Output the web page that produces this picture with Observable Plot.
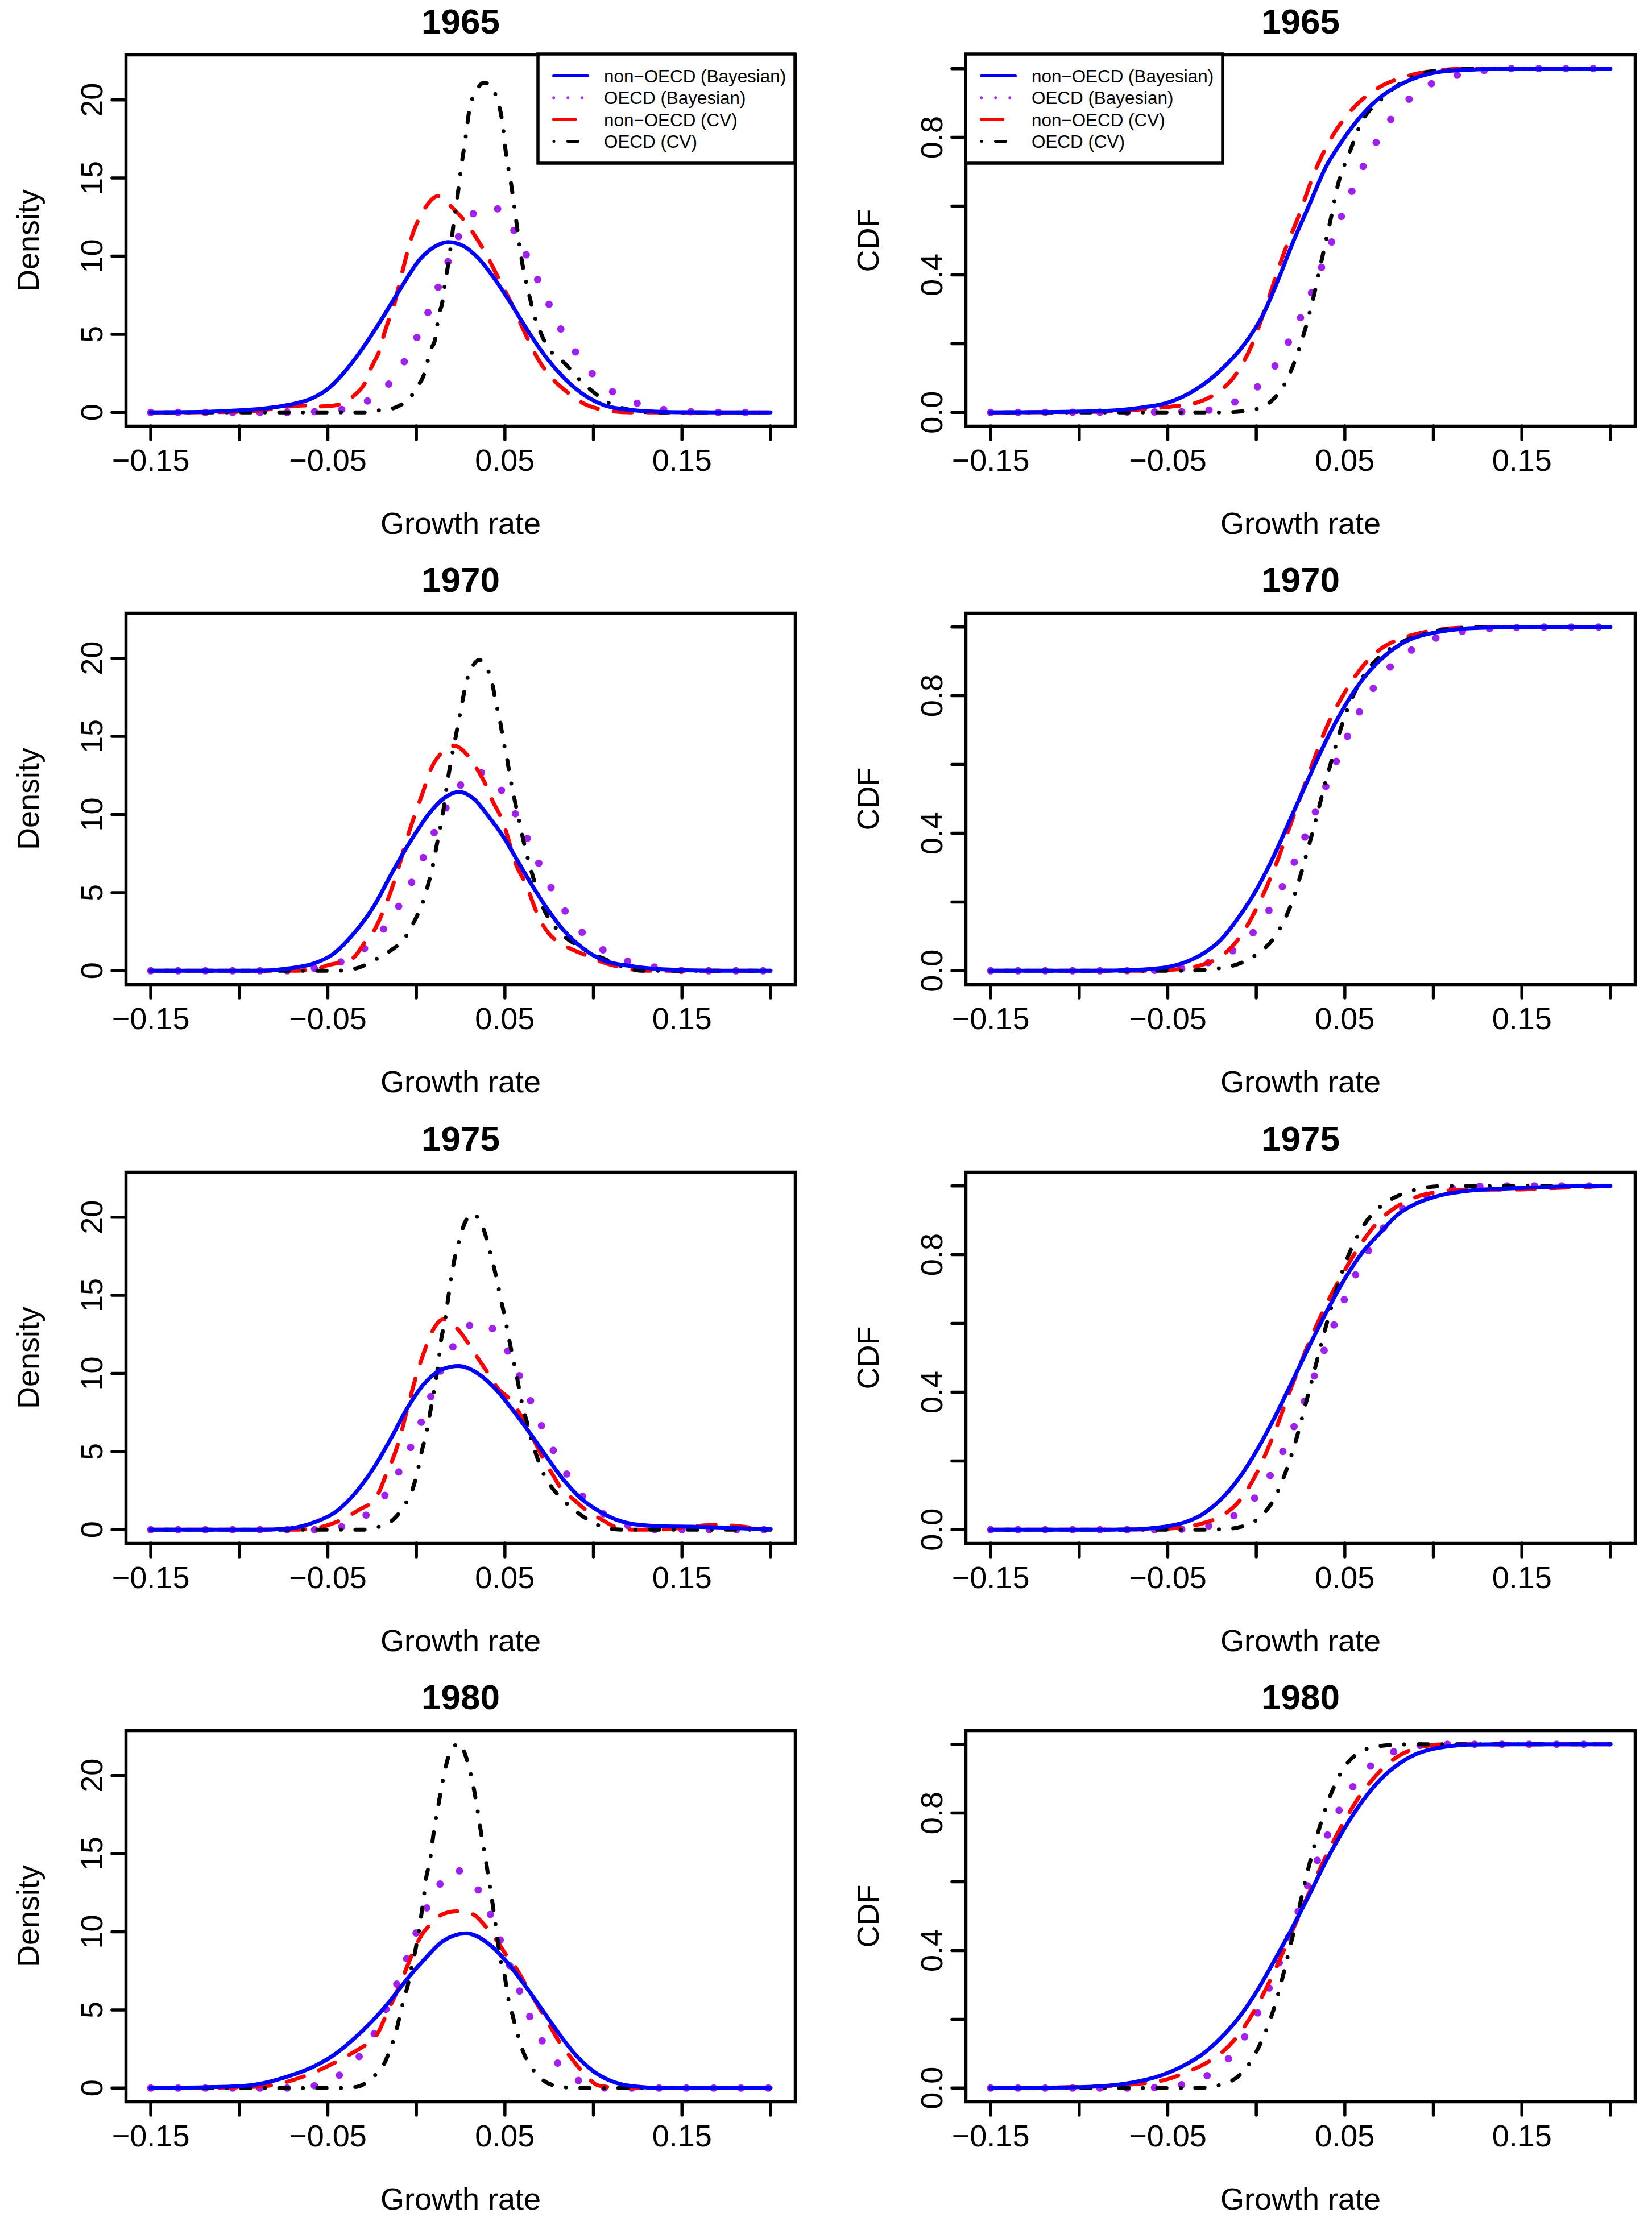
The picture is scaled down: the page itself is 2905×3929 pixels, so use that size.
<!DOCTYPE html>
<html>
<head>
<meta charset="utf-8">
<script src="https://cdn.jsdelivr.net/npm/d3@7"></script>
<script src="https://cdn.jsdelivr.net/npm/@observablehq/plot@0.6"></script>
<style>
  html, body { margin: 0; padding: 0; background: #ffffff; }
  #root { position: relative; width: 2905px; height: 3929px; overflow: hidden; background: #ffffff;
          font-family: "Liberation Sans", Arial, Helvetica, sans-serif; }
  .panel { position: absolute; }
</style>
</head>
<body>
<div id="root"></div>
<script>
// ---------------- categories / labels ----------------
const years = ["1965", "1970", "1975", "1980"];
const seriesLabels = ["non−OECD (Bayesian)", "OECD (Bayesian)", "non−OECD (CV)", "OECD (CV)"];
const xTicks = [-0.15, -0.10, -0.05, 0, 0.05, 0.10, 0.15, 0.20];
const xTickLabels = [-0.15, -0.05, 0.05, 0.15];
const densityTicks = [0, 5, 10, 15, 20];
const densityTickLabels = [0, 5, 10, 15, 20];
const cdfTicks = [0, 0.2, 0.4, 0.6, 0.8, 1.0];
const cdfTickLabels = [0, 0.4, 0.8];

// ---------------- density curves: [growth rate, density] ----------------
const dens1965_nonOECD_Bayes = [[-0.15,0],[-0.13,0.02],[-0.116,0.05],[-0.0975,0.15],[-0.0867,0.24],[-0.076,0.4],[-0.068,0.58],[-0.06,0.85],[-0.05,1.5],[-0.042,2.4],[-0.0313,3.95],[-0.0205,5.8],[-0.0099,7.75],[0.0025,9.86],[0.0114,10.67],[0.0179,10.9],[0.0262,10.67],[0.0351,9.86],[0.044,8.58],[0.0528,7.08],[0.0617,5.45],[0.0706,3.94],[0.0795,2.67],[0.0884,1.67],[0.0973,0.93],[0.1061,0.46],[0.121,0.16],[0.1358,0.05],[0.15,0.01],[0.2,0]];
const dens1965_OECD_Bayes = [[-0.15,0],[-0.0727,0],[-0.0572,0.05],[-0.0419,0.19],[-0.0273,0.75],[-0.0154,1.84],[-0.0067,3.27],[0.0005,4.84],[0.0067,6.43],[0.0124,8.03],[0.018,9.67],[0.0238,11.25],[0.032,12.7],[0.039,13.2],[0.0457,13.04],[0.055,11.67],[0.062,10.1],[0.0685,8.5],[0.075,6.9],[0.0816,5.34],[0.0899,3.87],[0.0993,2.48],[0.1109,1.32],[0.1248,0.58],[0.1396,0.19],[0.155,0.05],[0.17,0],[0.2,0]];
const dens1965_nonOECD_CV = [[-0.15,0],[-0.11,0.02],[-0.092,0.08],[-0.08,0.25],[-0.0698,0.4],[-0.0607,0.45],[-0.0542,0.38],[-0.048,0.42],[-0.042,0.57],[-0.0361,0.99],[-0.0282,2.08],[-0.0257,2.81],[-0.0205,4.08],[-0.0186,4.87],[-0.0147,6.2],[-0.0125,6.9],[-0.0099,8.1],[-0.0005,11.9],[0.0025,12.6],[0.0125,13.85],[0.0203,13.1],[0.0262,12.4],[0.032,11.5],[0.0395,10.1],[0.0469,8.47],[0.0543,6.84],[0.0617,4.99],[0.069,3.36],[0.0765,2.2],[0.0854,1.28],[0.0943,0.58],[0.1061,0.16],[0.121,0],[0.2,0]];
const dens1965_OECD_CV = [[-0.15,0],[-0.03,0],[-0.0224,0.12],[-0.0154,0.2],[-0.0093,0.45],[-0.0034,0.96],[0.0006,1.67],[0.004,2.33],[0.006,3.1],[0.0076,3.9],[0.0105,4.63],[0.0116,5.45],[0.0126,6.2],[0.0146,7.0],[0.0156,7.8],[0.0188,10.1],[0.0209,11.95],[0.0232,13.8],[0.0256,15.9],[0.0277,17.5],[0.03,19.4],[0.0336,20.5],[0.038,21.1],[0.041,21.0],[0.0454,20.1],[0.0484,18.7],[0.0508,16.4],[0.0534,14.7],[0.0552,13.3],[0.0573,11.5],[0.0597,9.63],[0.0632,7.77],[0.0662,6.38],[0.0706,4.99],[0.0765,3.83],[0.0839,3.13],[0.0913,2.2],[0.1002,1.28],[0.1091,0.58],[0.121,0.16],[0.1328,0],[0.2,0]];

const dens1970_nonOECD_Bayes = [[-0.15,0],[-0.0899,0],[-0.0735,0.13],[-0.0572,0.49],[-0.0474,1.04],[-0.036,2.3],[-0.0245,4.04],[-0.0131,6.4],[-0.0016,8.6],[0.0082,10.2],[0.0163,11.1],[0.024,11.45],[0.0327,10.98],[0.0408,9.87],[0.049,8.6],[0.0572,7.03],[0.0654,5.46],[0.0735,4.04],[0.0817,2.78],[0.0899,1.83],[0.098,1.12],[0.1062,0.65],[0.1225,0.28],[0.139,0.09],[0.166,0],[0.2,0]];
const dens1970_OECD_Bayes = [[-0.15,0],[-0.0722,0],[-0.0572,0.16],[-0.0425,0.57],[-0.0291,1.44],[-0.0183,2.7],[-0.0098,4.16],[-0.0025,5.69],[0.0041,7.29],[0.0103,8.9],[0.0168,10.43],[0.0252,11.92],[0.032,12.75],[0.0381,12.63],[0.0487,11.45],[0.0565,9.92],[0.0632,8.34],[0.0696,6.77],[0.0766,5.21],[0.0846,3.72],[0.0944,2.37],[0.1062,1.28],[0.1204,0.57],[0.1353,0.22],[0.1503,0.02],[0.166,0],[0.2,0]];
const dens1970_nonOECD_CV = [[-0.15,0],[-0.07,0],[-0.0572,0.1],[-0.0507,0.33],[-0.036,0.8],[-0.0286,1.9],[-0.0237,2.6],[-0.0188,3.8],[-0.0163,4.5],[-0.0098,6.7],[-0.0049,8.6],[-0.0008,10.0],[0.0033,11.3],[0.0082,12.9],[0.0147,14.0],[0.0212,14.4],[0.0302,13.6],[0.0343,12.9],[0.04,11.7],[0.0425,11.0],[0.0482,9.7],[0.0507,8.9],[0.0556,7.0],[0.062,5.5],[0.0686,3.56],[0.0719,2.85],[0.08,1.83],[0.0866,1.44],[0.0964,0.96],[0.1046,0.57],[0.1144,0.25],[0.1307,0],[0.2,0]];
const dens1970_OECD_CV = [[-0.15,0],[-0.045,0],[-0.0335,0.17],[-0.0237,0.69],[-0.0147,1.28],[-0.0065,2.1],[-0.0008,3.25],[0.0033,4.27],[0.0065,5.46],[0.009,6.56],[0.0114,7.98],[0.0147,9.87],[0.018,12.4],[0.0199,13.66],[0.0221,14.9],[0.024,16.06],[0.0261,17.3],[0.0281,18.4],[0.0319,19.5],[0.0355,19.9],[0.0392,19.5],[0.0428,18.4],[0.0449,17.2],[0.0474,15.9],[0.049,14.8],[0.0511,13.66],[0.0529,12.4],[0.0552,11.1],[0.0588,9.2],[0.0618,7.7],[0.0645,6.56],[0.0673,5.46],[0.0719,3.96],[0.0757,3.2],[0.0825,2.3],[0.0915,1.59],[0.1005,1.04],[0.1095,0.6],[0.119,0.17],[0.128,0],[0.2,0]];

const dens1975_nonOECD_Bayes = [[-0.15,0],[-0.0899,0],[-0.0735,0.06],[-0.0572,0.49],[-0.0458,1.12],[-0.036,2.15],[-0.0245,3.88],[-0.0147,5.77],[-0.0049,7.82],[0.0049,9.4],[0.0147,10.27],[0.024,10.47],[0.0343,10.03],[0.0441,9.08],[0.0539,7.74],[0.0637,6.25],[0.0735,4.67],[0.0833,3.17],[0.0931,1.99],[0.1029,1.2],[0.1127,0.65],[0.1225,0.36],[0.1389,0.22],[0.1552,0.19],[0.17,0.15],[0.19,0.06],[0.2,0.03]];
const dens1975_OECD_Bayes = [[-0.15,0],[-0.0572,0],[-0.042,0.2],[-0.0281,0.96],[-0.0176,2.22],[-0.0098,3.72],[-0.0031,5.3],[0.0028,6.9],[0.0083,8.56],[0.0137,10.19],[0.0209,11.75],[0.0304,13.1],[0.037,13.4],[0.0438,12.76],[0.0523,11.29],[0.0588,9.72],[0.065,8.12],[0.0712,6.53],[0.0779,4.95],[0.0856,3.44],[0.0948,2.02],[0.107,0.91],[0.1209,0.22],[0.1359,0],[0.2,0]];
const dens1975_nonOECD_CV = [[-0.15,0],[-0.07,0],[-0.0572,0.1],[-0.0425,0.62],[-0.031,1.36],[-0.0261,1.67],[-0.0212,2.38],[-0.0172,3.49],[-0.0139,4.35],[-0.0098,5.69],[-0.0049,7.82],[0,9.87],[0.0041,11.29],[0.009,12.7],[0.0155,13.47],[0.0229,12.9],[0.0302,11.77],[0.0343,11.06],[0.0408,9.95],[0.0458,9.08],[0.0531,8.3],[0.058,7.5],[0.0621,6.7],[0.067,5.6],[0.0719,4.5],[0.0768,3.56],[0.0809,2.78],[0.0899,1.83],[0.0964,1.2],[0.1046,0.65],[0.1127,0.17],[0.1225,0],[0.139,0.02],[0.1503,0.13],[0.16,0.25],[0.17,0.3],[0.18,0.25],[0.19,0.12],[0.2,0.04]];
const dens1975_OECD_CV = [[-0.15,0],[-0.031,0],[-0.0229,0.13],[-0.0131,0.65],[-0.0065,1.59],[-0.0025,2.46],[0.0008,3.8],[0.0033,5.14],[0.0057,6.17],[0.0074,7.27],[0.0098,8.77],[0.0127,10.9],[0.0139,12.08],[0.016,13.27],[0.0175,14.45],[0.0191,15.71],[0.0212,17.13],[0.0232,18.08],[0.0261,19.26],[0.0315,20.2],[0.0376,19.34],[0.0408,18.15],[0.0433,17.05],[0.0458,15.8],[0.0477,14.76],[0.0502,13.47],[0.052,12.4],[0.0544,11.06],[0.0569,9.72],[0.0585,8.74],[0.0605,7.67],[0.0621,7.03],[0.065,5.77],[0.0686,4.5],[0.0719,3.56],[0.076,2.78],[0.0814,2.07],[0.0882,1.36],[0.098,0.57],[0.1078,0.09],[0.1176,0],[0.2,0]];

const dens1980_nonOECD_Bayes = [[-0.15,0],[-0.12,0.05],[-0.1,0.12],[-0.0899,0.24],[-0.0735,0.71],[-0.0572,1.42],[-0.0474,2.05],[-0.036,3.08],[-0.0245,4.34],[-0.0147,5.6],[-0.0049,7.02],[0.0049,8.28],[0.0147,9.38],[0.0281,9.9],[0.0408,9.23],[0.0507,8.12],[0.0605,6.7],[0.0703,5.13],[0.0801,3.55],[0.0899,2.13],[0.0997,1.1],[0.1095,0.47],[0.1225,0.11],[0.139,0],[0.2,0]];
const dens1980_OECD_Bayes = [[-0.15,0],[-0.0727,0],[-0.0572,0.16],[-0.0433,0.84],[-0.0322,2.03],[-0.0237,3.5],[-0.017,5.08],[-0.0109,6.7],[-0.0054,8.3],[0,9.97],[0.006,11.56],[0.0136,13.09],[0.02,14.0],[0.0263,13.79],[0.0361,12.45],[0.0428,10.85],[0.0482,9.23],[0.0536,7.57],[0.0592,5.96],[0.065,4.34],[0.0722,2.8],[0.0814,1.39],[0.0938,0.36],[0.1087,0],[0.2,0]];
const dens1980_nonOECD_CV = [[-0.15,0],[-0.12,0.02],[-0.0899,0.08],[-0.0735,0.39],[-0.0572,1.03],[-0.0441,1.74],[-0.0343,2.37],[-0.0278,2.84],[-0.0212,3.63],[-0.0172,4.65],[-0.0114,6.07],[-0.0065,7.41],[-0.0016,8.75],[0.0033,9.86],[0.0082,10.49],[0.0147,11.12],[0.0229,11.31],[0.0319,11.12],[0.0392,10.33],[0.0458,9.38],[0.0507,8.52],[0.0565,7.65],[0.0613,6.7],[0.0654,5.91],[0.0711,4.81],[0.076,3.86],[0.0809,2.92],[0.0866,2.05],[0.0915,1.34],[0.0964,0.71],[0.1029,0.16],[0.116,0],[0.2,0]];
const dens1980_OECD_CV = [[-0.15,0],[-0.0425,0],[-0.0335,0.08],[-0.0245,0.71],[-0.0188,1.42],[-0.0139,2.76],[-0.0114,3.63],[-0.009,4.8],[-0.0065,5.9],[-0.0049,6.55],[-0.0033,7.41],[-0.0008,8.68],[0.0016,10.17],[0.0041,12.15],[0.0057,13.56],[0.0077,14.54],[0.009,15.69],[0.0106,16.96],[0.0126,18.22],[0.0142,19.24],[0.0163,20.43],[0.0196,21.61],[0.0245,22.05],[0.0275,21.37],[0.0297,20.54],[0.0319,19.48],[0.034,18.17],[0.0359,16.8],[0.0373,15.8],[0.0392,14.59],[0.0408,13.41],[0.0425,12.22],[0.0441,10.96],[0.0482,7.82],[0.05,7.1],[0.051,6.34],[0.0523,5.52],[0.0542,4.73],[0.0559,3.94],[0.058,3.15],[0.0601,2.4],[0.0629,1.69],[0.067,1.02],[0.0719,0.47],[0.0781,0.16],[0.09,0],[0.2,0]];

// ---------------- CDF curves ----------------
// 1965: [growth rate, CDF]
const cdf1965_nonOECD_Bayes = [[-0.15,0],[-0.0949,0.003],[-0.0651,0.014],[-0.0502,0.028],[-0.0353,0.063],[-0.0205,0.121],[-0.0056,0.206],[0.0034,0.28],[0.0123,0.385],[0.0212,0.501],[0.0302,0.607],[0.0391,0.712],[0.048,0.786],[0.057,0.849],[0.0689,0.912],[0.0838,0.96],[0.0987,0.986],[0.1135,0.995],[0.1433,1],[0.2,1]];
const cdf1965_OECD_Bayes = [[-0.15,0],[-0.0419,0.002],[-0.0264,0.007],[-0.0115,0.032],[0.001,0.076],[0.0108,0.137],[0.0183,0.206],[0.0251,0.277],[0.0314,0.351],[0.037,0.424],[0.0427,0.498],[0.0483,0.573],[0.0543,0.647],[0.0605,0.717],[0.068,0.788],[0.0763,0.855],[0.0867,0.913],[0.0996,0.958],[0.1144,0.982],[0.1296,0.995],[0.1448,1],[0.2,1]];
const cdf1965_nonOECD_CV = [[-0.15,0],[-0.09,0.002],[-0.0502,0.016],[-0.0353,0.026],[-0.0234,0.053],[-0.0115,0.111],[-0.0026,0.195],[0.0063,0.322],[0.0153,0.459],[0.0242,0.575],[0.0331,0.701],[0.0421,0.796],[0.054,0.881],[0.0689,0.944],[0.0838,0.976],[0.1076,0.997],[0.1225,1],[0.2,1]];
const cdf1965_OECD_CV = [[-0.15,0],[-0.02,0],[-0.0026,0.007],[0.0093,0.037],[0.0168,0.09],[0.0242,0.185],[0.0317,0.322],[0.0376,0.459],[0.0421,0.564],[0.0465,0.67],[0.0525,0.754],[0.0599,0.849],[0.0689,0.902],[0.0838,0.965],[0.0987,0.992],[0.1225,1],[0.2,1]];

// 1970-1980: CDF at these growth rates
const cdfGrid = [-0.15,-0.10,-0.08,-0.07,-0.06,-0.05,-0.04,-0.03,-0.02,-0.01,0,0.01,0.02,0.03,0.04,0.05,0.06,0.07,0.08,0.09,0.10,0.11,0.12,0.14,0.17,0.20];
const cdf1970_nonOECD_Bayes = [0,0,0.0005,0.002,0.005,0.011,0.025,0.05,0.09,0.155,0.235,0.335,0.45,0.565,0.675,0.77,0.847,0.904,0.945,0.97,0.983,0.991,0.996,0.999,1,1];
const cdf1970_OECD_Bayes    = [0,0,0,0.0003,0.001,0.003,0.008,0.019,0.038,0.071,0.122,0.2,0.3,0.42,0.545,0.665,0.77,0.85,0.905,0.94,0.965,0.98,0.99,0.997,1,1];
const cdf1970_nonOECD_CV    = [0,0,0,0,0.0005,0.002,0.007,0.018,0.042,0.093,0.18,0.295,0.435,0.578,0.712,0.81,0.885,0.935,0.963,0.979,0.99,0.996,0.999,1,1,1];
const cdf1970_OECD_CV       = [0,0,0,0,0,0,0.0005,0.002,0.008,0.02,0.047,0.096,0.197,0.37,0.565,0.74,0.853,0.915,0.95,0.973,0.987,0.995,0.999,1,1,1];
const cdf1975_nonOECD_Bayes = [0,0,0.0003,0.0008,0.004,0.01,0.022,0.046,0.088,0.148,0.228,0.323,0.428,0.535,0.637,0.73,0.807,0.864,0.917,0.948,0.967,0.979,0.986,0.992,0.998,1];
const cdf1975_OECD_Bayes    = [0,0,0,0,0,0.0005,0.002,0.008,0.021,0.05,0.098,0.177,0.284,0.41,0.544,0.673,0.781,0.865,0.922,0.959,0.98,0.992,0.998,1,1,1];
const cdf1975_nonOECD_CV    = [0,0,0,0.0005,0.001,0.003,0.008,0.019,0.039,0.081,0.162,0.279,0.417,0.547,0.66,0.755,0.838,0.902,0.942,0.967,0.98,0.987,0.989,0.989,0.994,1];
const cdf1975_OECD_CV       = [0,0,0,0,0,0,0,0.0001,0.001,0.007,0.028,0.089,0.219,0.407,0.604,0.771,0.88,0.94,0.971,0.989,0.998,1,1,1,1,1];
const cdf1980_nonOECD_Bayes = [0,0.0026,0.009,0.016,0.027,0.044,0.068,0.1,0.146,0.204,0.279,0.369,0.463,0.563,0.666,0.757,0.835,0.897,0.941,0.971,0.987,0.995,0.999,1,1,1];
const cdf1980_OECD_Bayes    = [0,0,0,0,0.0008,0.004,0.012,0.03,0.064,0.122,0.21,0.325,0.463,0.602,0.733,0.839,0.913,0.958,0.983,0.995,0.999,1,1,1,1,1];
const cdf1980_nonOECD_CV    = [0,0.003,0.007,0.011,0.016,0.026,0.045,0.068,0.101,0.155,0.235,0.337,0.453,0.57,0.681,0.779,0.861,0.922,0.965,0.988,0.998,1,1,1,1,1];
const cdf1980_OECD_CV       = [0,0,0,0,0,0,0.0001,0.001,0.01,0.035,0.105,0.232,0.43,0.651,0.826,0.935,0.981,0.995,0.999,1,1,1,1,1,1,1];

// ---------------- build tables ----------------
const fromPairs = a => a.map(([x, y]) => ({x, y}));
const fromGrid = v => cdfGrid.map((x, i) => ({x, y: v[i]}));

const densityData = {
  "1965": [dens1965_nonOECD_Bayes, dens1965_OECD_Bayes, dens1965_nonOECD_CV, dens1965_OECD_CV].map(fromPairs),
  "1970": [dens1970_nonOECD_Bayes, dens1970_OECD_Bayes, dens1970_nonOECD_CV, dens1970_OECD_CV].map(fromPairs),
  "1975": [dens1975_nonOECD_Bayes, dens1975_OECD_Bayes, dens1975_nonOECD_CV, dens1975_OECD_CV].map(fromPairs),
  "1980": [dens1980_nonOECD_Bayes, dens1980_OECD_Bayes, dens1980_nonOECD_CV, dens1980_OECD_CV].map(fromPairs)
};
const cdfData = {
  "1965": [cdf1965_nonOECD_Bayes, cdf1965_OECD_Bayes, cdf1965_nonOECD_CV, cdf1965_OECD_CV].map(fromPairs),
  "1970": [cdf1970_nonOECD_Bayes, cdf1970_OECD_Bayes, cdf1970_nonOECD_CV, cdf1970_OECD_CV].map(fromGrid),
  "1975": [cdf1975_nonOECD_Bayes, cdf1975_OECD_Bayes, cdf1975_nonOECD_CV, cdf1975_OECD_CV].map(fromGrid),
  "1980": [cdf1980_nonOECD_Bayes, cdf1980_OECD_Bayes, cdf1980_nonOECD_CV, cdf1980_OECD_CV].map(fromGrid)
};

// ---------------- styles ----------------
const lineStyles = [
  {stroke: "#0000FF", width: 7,  dash: null},
  {stroke: "#A020F0", width: 13, dash: "0 48"},
  {stroke: "#FF0000", width: 7,  dash: "31.6 28.4"},
  {stroke: "#000000", width: 7,  dash: "0 25.3 16.3 25.3"}
];
const legendStyles = [
  {stroke: "#0000FF", dash: null,            x1: 27.5, x2: 87.5},
  {stroke: "#A020F0", dash: "0 25",          x1: 27.7, x2: 90},
  {stroke: "#FF0000", dash: "38.3 100",      x1: 27.5, x2: 90},
  {stroke: "#000000", dash: "0 24.5 18 100", x1: 28,   x2: 90}
];
const drawOrder = [1, 2, 3, 0];
const FONT = '"Liberation Sans", Arial, Helvetica, sans-serif';

const fmtX = d => (d < 0 ? "−" : "") + Math.abs(d).toFixed(2);
const fmtD = d => String(d);
const fmtC = d => d.toFixed(1);

function legendMark(side) {
  return (index, scales, values, dims) => {
    const fl = dims.marginLeft, fr = dims.width - dims.marginRight, ft = dims.marginTop;
    const bw = 452, bh = 192;
    const bx = side === "right" ? fr - bw : fl;
    const g = d3.create("svg:g");
    g.append("rect").attr("x", bx).attr("y", ft - 1).attr("width", bw).attr("height", bh)
      .attr("fill", "white").attr("stroke", "black").attr("stroke-width", 5.5);
    seriesLabels.forEach((lab, i) => {
      const y = ft + 37.5 + 38.3 * i;
      const s = legendStyles[i];
      const ln = g.append("line").attr("x1", bx + s.x1).attr("x2", bx + s.x2).attr("y1", y).attr("y2", y)
        .attr("stroke", s.stroke).attr("stroke-width", 5).attr("stroke-linecap", "round");
      if (s.dash) ln.attr("stroke-dasharray", s.dash);
      g.append("text").attr("x", bx + 116).attr("y", y + 11.5)
        .attr("font-size", 31.4).attr("text-anchor", "start")
        .attr("font-family", FONT).attr("fill", "black").text(lab);
    });
    return g.node();
  };
}

function makePanel(kind, year, series, legendSide, width, marginRight) {
  const isD = kind === "density";
  const marks = [];
  for (const i of drawOrder) {
    const s = lineStyles[i];
    marks.push(Plot.line(series[i], {
      x: "x", y: "y", stroke: s.stroke, strokeWidth: s.width,
      strokeDasharray: s.dash, strokeLinecap: "round", strokeLinejoin: "round", curve: "monotone-x"
    }));
  }
  marks.push(Plot.frame({stroke: "black", strokeWidth: 5.5}));
  marks.push(Plot.axisX(xTicks, {tickSize: 24, strokeWidth: 5.5, strokeLinecap: "round", tickFormat: () => "", label: null}));
  marks.push(Plot.axisY(isD ? densityTicks : cdfTicks, {tickSize: 24, strokeWidth: 5.5, strokeLinecap: "round", tickFormat: () => "", label: null}));
  marks.push(Plot.text(xTickLabels, {x: d => d, text: fmtX, frameAnchor: "bottom", dy: 78, lineAnchor: "bottom", fontSize: 54}));
  marks.push(Plot.text(isD ? densityTickLabels : cdfTickLabels, {
    y: d => d, text: isD ? fmtD : fmtC, frameAnchor: "left", dx: -42, rotate: -90,
    lineAnchor: "bottom", textAnchor: "middle", fontSize: 54
  }));
  marks.push(Plot.text([isD ? "Density" : "CDF"], {text: d => d, frameAnchor: "left", dx: -154, rotate: -90, lineAnchor: "bottom", textAnchor: "middle", fontSize: 54}));
  marks.push(Plot.text(["Growth rate"], {text: d => d, frameAnchor: "bottom", dy: 189, lineAnchor: "bottom", fontSize: 54}));
  marks.push(Plot.text([year], {text: d => d, frameAnchor: "top", dy: -38, lineAnchor: "bottom", fontSize: 62, fontWeight: "bold"}));
  if (legendSide) marks.push(legendMark(legendSide));
  return Plot.plot({
    width, height: 982,
    marginLeft: 221, marginRight, marginTop: 96, marginBottom: 233,
    x: {domain: [-0.164, 0.214]},
    y: {domain: isD ? [-0.88, 22.88] : [-0.04, 1.04]},
    style: {fontFamily: FONT, fontSize: "54px", color: "black", background: "white", overflow: "visible"},
    marks
  });
}

const root = document.getElementById("root");
years.forEach((yr, r) => {
  const top = r * 982.25;
  const left = makePanel("density", yr, densityData[yr], r === 0 ? "right" : null, 1453, 55);
  const right = makePanel("cdf", yr, cdfData[yr], r === 0 ? "left" : null, 1428, 30);
  const a = document.createElement("div"); a.className = "panel"; a.style.left = "0px"; a.style.top = top + "px"; a.appendChild(left);
  const b = document.createElement("div"); b.className = "panel"; b.style.left = "1477px"; b.style.top = top + "px"; b.appendChild(right);
  root.appendChild(a); root.appendChild(b);
});
</script>
</body>
</html>
